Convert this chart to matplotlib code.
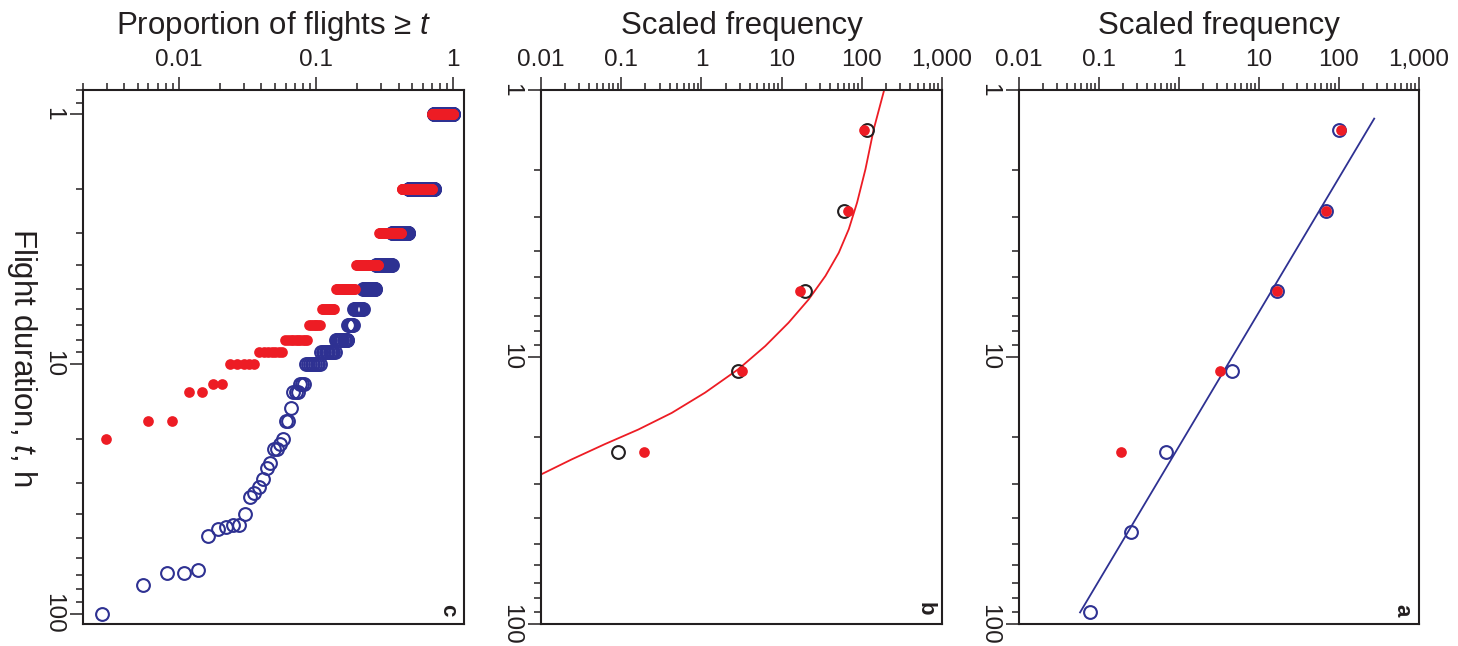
import numpy as np
import matplotlib.pyplot as plt
from matplotlib.ticker import LogLocator, NullFormatter

plt.rcParams['font.family'] = ['Liberation Sans', 'DejaVu Sans']
plt.rcParams['mathtext.fontset'] = 'custom'
plt.rcParams['mathtext.rm'] = 'Liberation Sans'
plt.rcParams['mathtext.it'] = 'Liberation Sans:italic'

INK = '#231f20'
BLUE = '#2e3192'
RED = '#ed1c24'

# panel c: flight durations (h) and number of flights with that duration
blue_hours = [1, 2, 3, 4, 5, 6, 7, 8, 9, 10, 12, 13, 15, 17, 20, 21, 22, 25, 26,
              29, 31, 33, 34, 40, 44, 45, 46, 49, 67, 69, 77, 100]
blue_counts = [100, 93, 42, 31, 19, 12, 6, 12, 11, 9, 3, 3, 1, 2, 1, 1, 2, 1, 1,
               1, 1, 1, 1, 1, 2, 1, 1, 1, 1, 2, 1, 1]
red_hours = [1, 2, 3, 4, 5, 6, 7, 8, 9, 10, 12, 13, 17, 20]
red_counts = [101, 95, 45, 31, 19, 10, 7, 10, 7, 5, 2, 2, 2, 1]

# panels b and a: log2 duration bins (h) and scaled frequency
bin_mid = [1.414, 2.83, 5.66, 11.3, 22.6, 45.3, 90.5]
freq_black = [117, 60, 19.8, 2.84, 0.09]
freq_red = [105, 68, 17.0, 3.25, 0.19]
freq_blue = [100, 68, 16.6, 4.6, 0.69, 0.25, 0.077]

# red model curve in panel b
curve_t = [1.0, 1.40, 1.98, 2.64, 3.32, 4.07, 4.97, 6.08, 7.44, 9.1, 11.1,
           13.6, 16.2, 18.7, 21.2, 24.2, 27.5]
curve_x = [190, 141, 111, 87.3, 68.8, 51.6, 35.2, 21.8, 12.2, 6.25, 2.90,
           1.11, 0.426, 0.163, 0.0625, 0.024, 0.0101]

# blue power-law line in panel a (end points)
fit_t = [1.28, 90.5]
fit_x = [276, 0.058]

freq_ticks = [0.01, 0.1, 1, 10, 100, 1000]
freq_labels = ['0.01', '0.1', '1', '10', '100', '1,000']
prop_ticks = [0.01, 0.1, 1]
prop_labels = ['0.01', '0.1', '1']
dur_ticks = [1, 10, 100]
dur_labels = ['1', '10', '100']


def ccdf(hours, counts):
    t = np.repeat(hours, counts)[::-1]
    p = np.arange(1, len(t) + 1) / len(t)
    return p, t


def style(ax, xlim, ylim, xticks, xlabels):
    ax.set_xscale('log')
    ax.set_yscale('log')
    ax.xaxis.tick_top()
    ax.xaxis.set_label_position('top')
    ax.set_xticks(xticks)
    ax.set_xticklabels(xlabels)
    ax.set_yticks(dur_ticks)
    ax.set_yticklabels(dur_labels, rotation=-90, va='center')
    for axis in (ax.xaxis, ax.yaxis):
        axis.set_minor_locator(LogLocator(base=10, subs=np.arange(2, 10), numticks=30))
        axis.set_minor_formatter(NullFormatter())
    ax.set_xlim(*xlim)
    ax.set_ylim(*ylim)
    ax.tick_params(which='major', direction='out', length=9.5, width=1.1, color=INK,
                   labelsize=17.5, labelcolor=INK, pad=4)
    ax.tick_params(which='minor', direction='out', length=5, width=1.1, color=INK)
    ax.tick_params(axis='x', which='both', top=True, bottom=False)
    ax.tick_params(axis='y', which='both', left=True, right=False)
    for s in ax.spines.values():
        s.set_linewidth(1.5)
        s.set_color(INK)


fig = plt.figure(figsize=(14.58, 6.46), dpi=100)
ax_c = fig.add_axes([0.0569, 0.0341, 0.2613, 0.8266])
ax_b = fig.add_axes([0.3711, 0.0341, 0.2750, 0.8266])
ax_a = fig.add_axes([0.6989, 0.0341, 0.2743, 0.8266])

# c
p, t = ccdf(blue_hours, blue_counts)
ax_c.plot(p, t, 'o', ms=9.2, mfc='none', mec=BLUE, mew=1.5, clip_on=False)
p, t = ccdf(red_hours, red_counts)
ax_c.plot(p, t, 'o', ms=7.7, mfc=RED, mec=RED, mew=0, clip_on=False)
style(ax_c, (0.002, 1.2), (110, 0.8), prop_ticks, prop_labels)
ax_c.set_xlabel('Proportion of flights \u2265 $t$', fontsize=22.5, color=INK, labelpad=11)

# b
ax_b.plot(curve_x, curve_t, '-', color=RED, lw=1.3)
ax_b.plot(freq_black, bin_mid[:len(freq_black)], 'o', ms=9.2, mfc='none', mec=INK, mew=1.5)
ax_b.plot(freq_red, bin_mid[:len(freq_red)], 'o', ms=7.7, mfc=RED, mec=RED, mew=0)
style(ax_b, (0.01, 1000), (100, 1), freq_ticks, freq_labels)
ax_b.set_xlabel('Scaled frequency', fontsize=22.5, color=INK, labelpad=11)

# a
ax_a.plot(fit_x, fit_t, '-', color=BLUE, lw=1.3)
ax_a.plot(freq_blue, bin_mid, 'o', ms=9.2, mfc='none', mec=BLUE, mew=1.5)
ax_a.plot(freq_red, bin_mid[:len(freq_red)], 'o', ms=7.7, mfc=RED, mec=RED, mew=0)
style(ax_a, (0.01, 1000), (100, 1), freq_ticks, freq_labels)
ax_a.set_xlabel('Scaled frequency', fontsize=22.5, color=INK, labelpad=11)

fig.text(22 / 1458, 1 - 357 / 646, 'Flight duration, $t$, h', rotation=-90,
         ha='center', va='center', fontsize=22.5, color=INK)

for ax, lab in ((ax_c, 'c'), (ax_b, 'b'), (ax_a, 'a')):
    ax.text(0.958, 0.015, lab, transform=ax.transAxes, rotation=-90, fontsize=16,
            fontweight='bold', ha='center', va='bottom', color=INK)

fig.savefig('out.png', dpi=100)
